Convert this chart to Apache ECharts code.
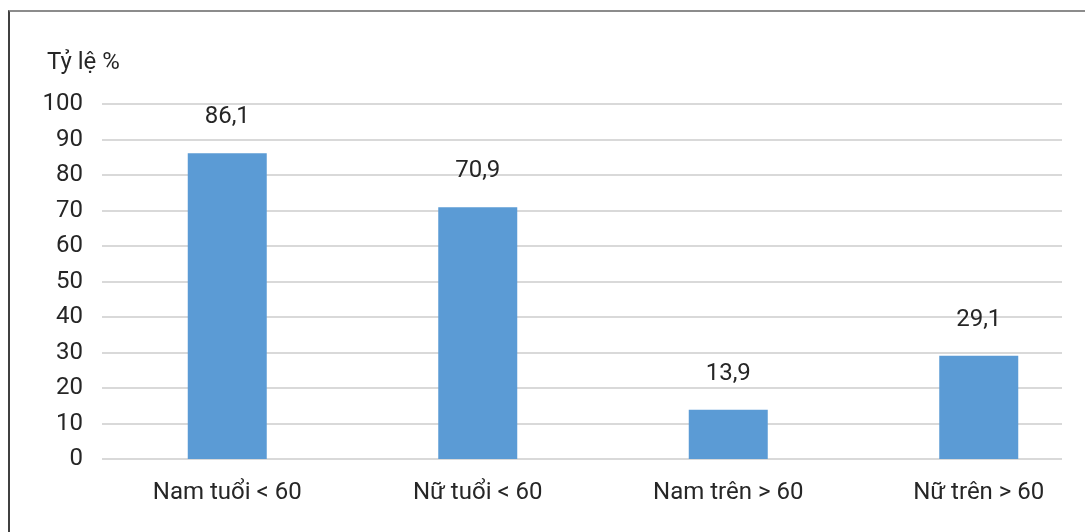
<!DOCTYPE html>
<html>
<head>
<meta charset="utf-8">
<script src="https://cdn.jsdelivr.net/npm/echarts@6/dist/echarts.min.js"></script>
<style>
  html, body { margin: 0; padding: 0; background: #fff; }
  #frame {
    position: absolute; left: 8px; top: 10px; width: 1080px; height: 530px;
    border-top: 2px solid #8c8c8c; border-left: 2px solid #404040;
  }
  #chart { position: absolute; left: 0; top: 0; width: 1085px; height: 532px; }
</style>
</head>
<body>
<div id="frame"></div>
<div id="chart"></div>
<script>
const categories = ['Nam tuổi < 60', 'Nữ tuổi < 60', 'Nam trên > 60', 'Nữ trên > 60']
const values = [86.1, 70.9, 13.9, 29.1]
const yMin = 0
const yMax = 100
const yStep = 10
const yTitle = 'Tỷ lệ %'

const font = 'Roboto, sans-serif'
const textColor = '#262626'

const chart = echarts.init(document.getElementById('chart'))

chart.setOption({
  backgroundColor: 'transparent',
  animation: false,
  title: {
    text: yTitle,
    left: 42,
    top: 46,
    textStyle: { fontFamily: font, fontSize: 24, fontWeight: 'normal', color: textColor }
  },
  grid: [
    { left: 102, right: 23, top: 104, bottom: 73, outerBoundsMode: 'none' },
    { left: 102, width: 1002, top: 104, bottom: 73, outerBoundsMode: 'none' }
  ],
  xAxis: [
    { gridIndex: 0, type: 'category', data: categories, show: false },
    {
      gridIndex: 1,
      type: 'category',
      data: categories,
      axisLine: { show: false },
      axisTick: { show: false },
      axisLabel: { margin: 22, fontFamily: font, fontSize: 24, color: textColor }
    }
  ],
  yAxis: [
    {
      gridIndex: 0,
      type: 'value',
      min: yMin,
      max: yMax,
      interval: yStep,
      axisLine: { show: false },
      axisTick: { show: false },
      axisLabel: { margin: 19, fontFamily: font, fontSize: 24, color: textColor },
      splitLine: { lineStyle: { color: '#d9d9d9', width: 2 } }
    },
    { gridIndex: 1, type: 'value', min: yMin, max: yMax, show: false }
  ],
  series: [
    {
      type: 'bar',
      xAxisIndex: 1,
      yAxisIndex: 1,
      data: values,
      barWidth: 79,
      itemStyle: { color: '#5b9bd5' },
      label: {
        show: true,
        position: 'top',
        distance: 24,
        fontFamily: font,
        fontSize: 24,
        color: textColor,
        formatter: (p) => String(p.value).replace('.', ',')
      }
    }
  ]
})
</script>
</body>
</html>
